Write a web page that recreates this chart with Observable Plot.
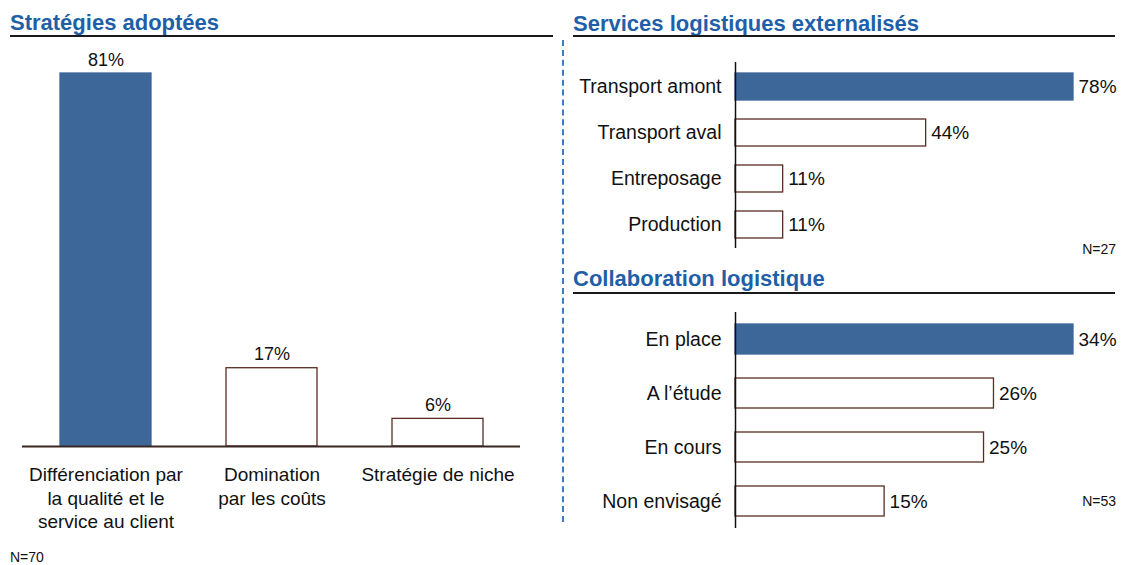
<!DOCTYPE html>
<html><head><meta charset="utf-8">
<script src="https://cdn.jsdelivr.net/npm/d3@7"></script>
<script src="https://cdn.jsdelivr.net/npm/@observablehq/plot@0.6"></script>
<style>
html,body{margin:0;padding:0;background:#fff;}
#root{position:relative;width:1127px;height:565px;overflow:hidden;font-family:"Liberation Sans",Arial,sans-serif;color:#111;}
.title{position:absolute;font-weight:bold;font-size:22px;line-height:22px;color:#1f5fa8;white-space:nowrap;}
.rule{position:absolute;height:2px;background:#1a1a1a;}
.note{position:absolute;font-size:14px;line-height:14px;color:#111;white-space:nowrap;}
.plot{position:absolute;}
#dash{position:absolute;left:562px;top:40px;width:0;height:482px;border-left:2px dashed #3b7bc4;}
</style></head>
<body><div id="root">
<div class="title" style="left:10px;top:12px">Stratégies adoptées</div>
<div class="rule" style="left:10px;top:35px;width:543px"></div>
<div class="title" style="left:573px;top:13px">Services logistiques externalisés</div>
<div class="rule" style="left:573px;top:35px;width:542px"></div>
<div class="title" style="left:573px;top:268px">Collaboration logistique</div>
<div class="rule" style="left:573px;top:292px;width:542px"></div>
<div id="dash"></div>
<div class="note" style="left:10px;top:550px">N=70</div>
<div class="note" style="right:11px;top:242px">N=27</div>
<div class="note" style="right:11px;top:494px">N=53</div>
<div class="plot" id="p1" style="left:0;top:40px"></div>
<div class="plot" id="p2" style="left:560px;top:40px"></div>
<div class="plot" id="p3" style="left:560px;top:300px"></div>
</div>
<script>
const strategies = ["Différenciation par\nla qualité et le\nservice au client", "Domination\npar les coûts", "Stratégie de niche"];
const strategyValues = [81, 17, 6];
const services = ["Transport amont", "Transport aval", "Entreposage", "Production"];
const serviceValues = [78, 44, 11, 11];
const collabs = ["En place", "A l’étude", "En cours", "Non envisagé"];
const collabValues = [34, 26, 25, 15];

const BLUE = "#3d6699", OUT = "#5a2c24", FONT = "'Liberation Sans', Arial, sans-serif";
const toRows = (cats, vals) => cats.map((c, i) => ({cat: c, value: vals[i], i}));
const fillOf = d => d.i === 0 ? BLUE : "#ffffff";
const strokeOf = d => d.i === 0 ? BLUE : OUT;

// Left: vertical bars
const r1 = toRows(strategies, strategyValues);
const p1 = Plot.plot({
  width: 540, height: 500,
  marginLeft: 22, marginRight: 20, marginTop: 33, marginBottom: 94,
  style: {fontFamily: FONT, color: "#111", background: "transparent", overflow: "visible"},
  x: {domain: strategies, paddingInner: 0.452, paddingOuter: 0.226, axis: null},
  y: {domain: [0, 81], axis: null},
  marks: [
    Plot.barY(r1, {x: "cat", y: "value", fill: fillOf, stroke: strokeOf, strokeWidth: 1.3}),
    Plot.ruleY([0], {stroke: "#3a2622", strokeWidth: 2}),
    Plot.text(r1, {x: "cat", y: "value", text: d => d.value + "%", lineAnchor: "bottom", dy: -8, fontSize: 18, fill: "#111"}),
    Plot.axisX({tickSize: 0, tickPadding: 18, fontSize: 19, lineHeight: 1.24, fill: "#111", label: null})
  ]
});
document.getElementById("p1").appendChild(p1);

// Right: horizontal bars
function hbars(rows, cats, max, height, mt, mb, pi, po) {
  return Plot.plot({
    width: 567, height,
    marginLeft: 175, marginRight: 54, marginTop: mt, marginBottom: mb,
    style: {fontFamily: FONT, color: "#111", background: "transparent", overflow: "visible"},
    y: {domain: cats, paddingInner: pi, paddingOuter: po, axis: null},
    x: {domain: [0, max], axis: null},
    marks: [
      Plot.barX(rows, {y: "cat", x: "value", fill: fillOf, stroke: strokeOf, strokeWidth: 1.3}),
      Plot.ruleX([0], {stroke: "#111", strokeWidth: 1.5}),
      Plot.text(rows, {y: "cat", x: "value", text: d => d.value + "%", textAnchor: "start", dx: 5, fontSize: 19, fill: "#111"}),
      Plot.axisY({tickSize: 0, tickPadding: 14, fontSize: 19.5, fill: "#111", label: null})
    ]
  });
}
document.getElementById("p2").appendChild(hbars(toRows(services, serviceValues), services, 78, 220, 22, 12, 0.417, 0.217));
document.getElementById("p3").appendChild(hbars(toRows(collabs, collabValues), collabs, 34, 240, 12, 12, 0.448, 0.213));
</script>
</body></html>
